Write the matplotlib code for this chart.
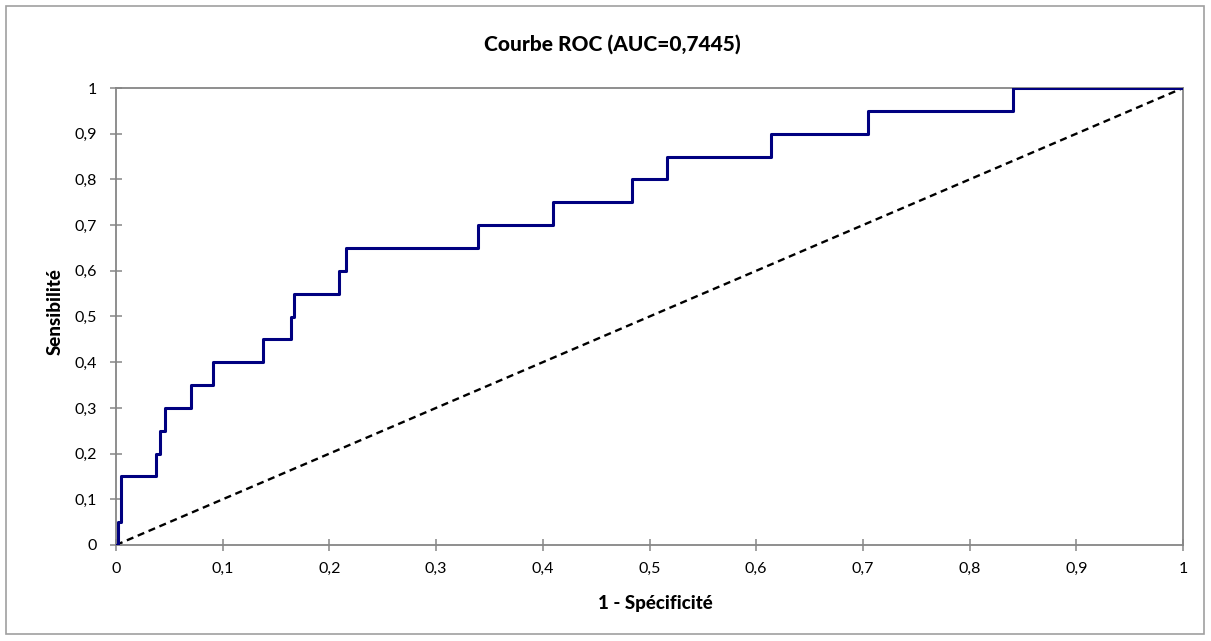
import matplotlib
matplotlib.use("Agg")
import matplotlib.pyplot as plt
from matplotlib.ticker import FuncFormatter, MultipleLocator
from matplotlib.patches import Rectangle

# ROC data
fpr = [0, 0.002, 0.005, 0.0375, 0.041, 0.046, 0.070, 0.091, 0.138, 0.164, 0.167,
       0.209, 0.216, 0.339, 0.410, 0.484, 0.516, 0.6135, 0.705, 0.841, 1.0]
tpr = [0, 0.05, 0.15, 0.2, 0.25, 0.3, 0.35, 0.4, 0.45, 0.5, 0.55,
       0.6, 0.65, 0.7, 0.75, 0.8, 0.85, 0.9, 0.95, 1.0, 1.0]
diag = [0, 1]

title = "Courbe ROC (AUC=0,7445)"
xlabel = "1 - Spécificité"
ylabel = "Sensibilité"

plt.rcParams['font.family'] = ['Lato', 'DejaVu Sans']

fig = plt.figure(figsize=(12.11, 6.41), dpi=100)
ax = fig.add_axes([116/1211, 1 - 545/641, (1183-116)/1211, (545-88)/641])

ax.plot(fpr, tpr, drawstyle='steps-post', color='#000080', lw=2.2, zorder=3)
ax.plot(diag, diag, color='black', lw=1.7, linestyle=(0, (3.0, 2.0)), zorder=2)

ax.set_xlim(0, 1)
ax.set_ylim(0, 1)
ax.xaxis.set_major_locator(MultipleLocator(0.1))
ax.yaxis.set_major_locator(MultipleLocator(0.1))
fmt = FuncFormatter(lambda v, p: ('%g' % round(v, 2)).replace('.', ','))
ax.xaxis.set_major_formatter(fmt)
ax.yaxis.set_major_formatter(fmt)

for s in ax.spines.values():
    s.set_color('#868686')
    s.set_linewidth(1.3)
ax.tick_params(axis='both', direction='inout', length=8, width=1.1, color='#868686',
               labelsize=11.5, labelcolor='black')
ax.tick_params(axis='x', pad=8)
ax.tick_params(axis='y', pad=10)
ax.tick_params(top=False, right=False)

fig.text(612/1211, 1 - 44/641, title, ha='center', va='center', fontsize=15, fontweight=900)
fig.text(655/1211, 1 - 604/641, xlabel, ha='center', va='center', fontsize=13.5, fontweight=900)
fig.text(55/1211, 1 - 312/641, ylabel, ha='center', va='center', fontsize=13.5, fontweight=900,
         rotation=90)

fig.patches.append(Rectangle((6/1211, 1 - 634/641), (1204-6)/1211, (634-6)/641,
                             transform=fig.transFigure, fill=False, edgecolor='#a0a0a0', lw=1.2))

fig.savefig('out.png', dpi=100)
